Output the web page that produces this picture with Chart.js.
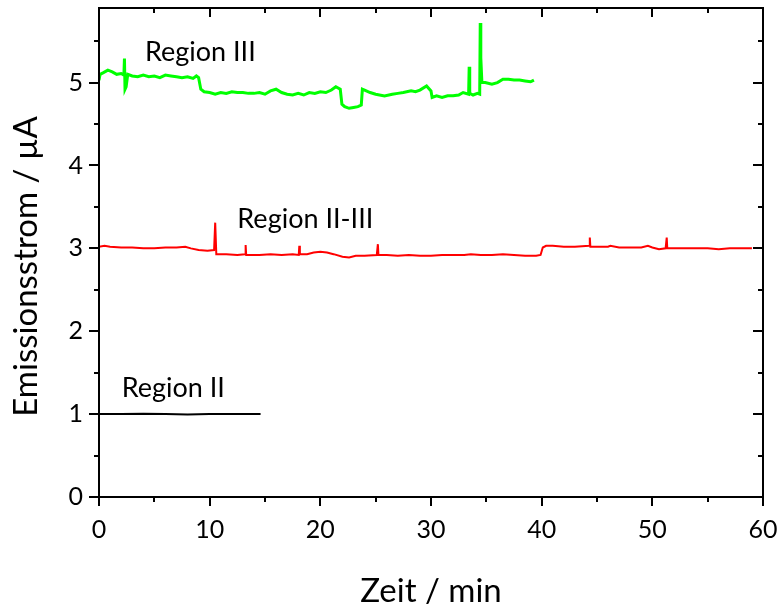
<!DOCTYPE html>
<html>
<head>
<meta charset="utf-8">
<script src="https://cdn.jsdelivr.net/npm/chart.js@4.4.1/dist/chart.umd.min.js"></script>
<style>
  html, body { margin: 0; padding: 0; background: #fff; }
  #wrap { width: 779px; height: 610px; }
</style>
</head>
<body>
<div id="wrap"><canvas id="chart1"></canvas></div>
<script>
// Region III (green)
var timeIII = [0.0, 0.1, 0.4, 0.8, 1.2, 1.6, 2.0, 2.25, 2.3, 2.35, 2.45, 2.6, 3.0, 3.5, 4.0, 4.5, 5.0, 5.5, 6.0, 6.5,
  7.0, 7.5, 8.0, 8.5, 8.8, 9.0, 9.2, 9.5, 10.0, 10.5, 11.0, 11.5, 12.0, 12.5, 13.0, 13.5, 14.0, 14.5, 15.0, 15.5,
  16.0, 16.5, 17.0, 17.5, 18.0, 18.5, 19.0, 19.5, 20.0, 20.5, 21.0, 21.4, 21.8, 21.95, 22.2, 22.6, 23.0, 23.4, 23.7, 23.8,
  24.0, 24.5, 25.0, 25.8, 26.5, 27.0, 27.5, 28.2, 28.6, 29.0, 29.6, 30.0, 30.1, 30.5, 31.0, 31.5, 32.0, 32.5, 32.9, 33.4,
  33.45, 33.5, 33.8, 34.2, 34.4, 34.45, 34.5, 34.6, 34.9, 35.5, 36.0, 36.5, 37.0, 37.5, 38.0, 38.5, 39.0, 39.3];
var currentIII = [5.03, 5.10, 5.12, 5.15, 5.13, 5.10, 5.11, 5.09, 5.29, 4.92, 4.95, 5.10, 5.08, 5.07, 5.09, 5.07, 5.08, 5.06, 5.09, 5.08,
  5.07, 5.06, 5.07, 5.05, 5.08, 5.06, 4.92, 4.89, 4.88, 4.86, 4.88, 4.87, 4.89, 4.88, 4.88, 4.87, 4.87, 4.88, 4.86, 4.90,
  4.92, 4.88, 4.86, 4.85, 4.87, 4.85, 4.88, 4.87, 4.89, 4.88, 4.91, 4.95, 4.92, 4.74, 4.71, 4.69, 4.70, 4.71, 4.73, 4.92,
  4.91, 4.88, 4.86, 4.84, 4.86, 4.87, 4.88, 4.90, 4.89, 4.91, 4.96, 4.90, 4.82, 4.84, 4.82, 4.84, 4.84, 4.85, 4.88, 4.86,
  5.19, 4.87, 4.85, 4.87, 4.86, 5.72, 5.30, 5.00, 5.00, 4.98, 5.00, 5.04, 5.04, 5.03, 5.03, 5.02, 5.01, 5.03];

// Region II-III (red)
var timeIIIII = [0.0, 0.5, 1.0, 2.0, 3.0, 4.0, 5.0, 6.0, 7.0, 7.8, 8.3, 9.0, 9.8, 10.4, 10.5, 10.6, 11.5, 12.5, 13.2, 13.25,
  13.3, 14.5, 15.5, 16.5, 17.5, 18.05, 18.1, 18.15, 18.8, 19.4, 20.0, 20.6, 21.2, 22.0, 22.6, 23.2, 24.0, 25.1, 25.2, 25.25,
  26.0, 27.0, 28.0, 29.0, 30.0, 31.0, 32.0, 33.0, 33.6, 34.5, 35.5, 36.5, 37.5, 38.5, 39.5, 39.9, 40.1, 40.4, 41.0, 42.0,
  43.0, 44.3, 44.35, 44.4, 45.0, 46.0, 46.2, 47.0, 48.0, 49.0, 49.6, 50.0, 50.6, 51.2, 51.3, 51.35, 52.0, 53.0, 54.0, 55.0,
  56.0, 57.0, 58.0, 59.0];
var currentIIIII = [3.02, 3.03, 3.02, 3.01, 3.01, 3.00, 3.00, 3.01, 3.01, 3.02, 3.00, 2.98, 2.97, 2.98, 3.31, 2.93, 2.93, 2.92, 2.93, 3.04,
  2.92, 2.92, 2.93, 2.92, 2.93, 2.92, 3.03, 2.93, 2.93, 2.95, 2.96, 2.95, 2.93, 2.90, 2.89, 2.91, 2.91, 2.92, 3.05, 2.92,
  2.92, 2.91, 2.92, 2.91, 2.91, 2.92, 2.92, 2.92, 2.93, 2.92, 2.92, 2.93, 2.92, 2.91, 2.91, 2.92, 3.01, 3.03, 3.03, 3.02,
  3.02, 3.03, 3.13, 3.02, 3.02, 3.02, 3.03, 3.01, 3.01, 3.01, 3.03, 3.01, 2.99, 3.00, 3.13, 3.00, 3.00, 3.00, 3.00, 3.00,
  2.99, 3.00, 3.00, 3.00];

// Region II (black)
var timeII = [0.0, 2.0, 4.0, 6.0, 8.0, 10.0, 12.0, 14.6];
var currentII = [1.00, 1.00, 1.005, 1.00, 0.995, 1.00, 1.00, 1.00];

var xTicks = [0, 10, 20, 30, 40, 50, 60];
var yTicks = [0, 1, 2, 3, 4, 5];
var regionNames = ['Region III', 'Region II-III', 'Region II'];

function toPoints(xs, ys) {
  return xs.map(function (x, i) { return { x: x, y: ys[i] }; });
}

var font = 'Lato, "Open Sans", sans-serif';

// frame, tick marks, region labels and axis titles
var frame = {
  id: 'frame',
  afterDraw: function (chart) {
    var ctx = chart.ctx;
    var a = chart.chartArea;
    var xs = chart.scales.x;
    var ys = chart.scales.y;
    var t, v, p, len;

    ctx.save();
    ctx.strokeStyle = '#000';
    ctx.lineWidth = 2;
    ctx.strokeRect(a.left, a.top, a.right - a.left, a.bottom - a.top);

    ctx.beginPath();
    for (t = 0; t <= 60; t += 5) {
      p = Math.round(xs.getPixelForValue(t));
      len = t % 10 === 0 ? 9 : 5;
      ctx.moveTo(p, a.bottom); ctx.lineTo(p, a.bottom + len);
      ctx.moveTo(p, a.top); ctx.lineTo(p, a.top + len);
    }
    for (v = 0; v <= 5.5; v += 0.5) {
      p = Math.round(ys.getPixelForValue(v));
      len = v % 1 === 0 ? 10 : 5;
      ctx.moveTo(a.left, p); ctx.lineTo(a.left - len, p);
      ctx.moveTo(a.right, p); ctx.lineTo(a.right - len, p);
    }
    ctx.stroke();

    ctx.fillStyle = '#000';
    ctx.font = '27px ' + font;
    ctx.textAlign = 'left';
    ctx.textBaseline = 'alphabetic';
    var anchors = [[4.15, 5.26], [12.5, 3.25], [2.05, 1.21]];
    regionNames.forEach(function (name, i) {
      ctx.fillText(name, xs.getPixelForValue(anchors[i][0]), ys.getPixelForValue(anchors[i][1]));
    });

    ctx.font = '33px ' + font;
    ctx.textAlign = 'center';
    ctx.fillText('Zeit / min', (a.left + a.right) / 2, 602);
    ctx.translate(37, (a.top + a.bottom) / 2 + 14);
    ctx.rotate(-Math.PI / 2);
    ctx.fillText('Emissionsstrom / µA', 0, 0);
    ctx.restore();
  }
};

function noOverhang(scale) {
  scale.paddingTop = 0;
  scale.paddingBottom = 0;
  scale.paddingLeft = 0;
  scale.paddingRight = 0;
}

var ctx = document.getElementById('chart1');
var chart = new Chart(ctx, {
  type: 'line',
  data: {
    datasets: [{
      label: regionNames[0],
      data: toPoints(timeIII, currentIII),
      borderColor: '#00ff00',
      borderWidth: 3
    }, {
      label: regionNames[1],
      data: toPoints(timeIIIII, currentIIIII),
      borderColor: '#ff0000',
      borderWidth: 2
    }, {
      label: regionNames[2],
      data: toPoints(timeII, currentII),
      borderColor: '#000000',
      borderWidth: 2
    }]
  },
  options: {
    responsive: true,
    maintainAspectRatio: false,
    animation: false,
    elements: { point: { radius: 0 }, line: { tension: 0 } },
    layout: { padding: { top: 8, right: 16, left: 0, bottom: 0 } },
    plugins: { legend: { display: false }, tooltip: { enabled: false } },
    scales: {
      x: {
        type: 'linear',
        min: 0,
        max: 60,
        grid: { display: false, drawTicks: false },
        border: { display: false },
        afterBuildTicks: function (scale) {
          scale.ticks = xTicks.map(function (v) { return { value: v }; });
        },
        afterFit: function (scale) { scale.height = 113; noOverhang(scale); },
        ticks: {
          padding: 18,
          maxRotation: 0,
          color: '#000',
          font: { family: font, size: 25 }
        }
      },
      y: {
        min: 0,
        max: 5.9,
        grid: { display: false, drawTicks: false },
        border: { display: false },
        afterBuildTicks: function (scale) {
          scale.ticks = yTicks.map(function (v) { return { value: v }; });
        },
        afterFit: function (scale) { scale.width = 99; noOverhang(scale); },
        ticks: {
          padding: 16,
          color: '#000',
          font: { family: font, size: 25 }
        }
      }
    }
  },
  plugins: [frame]
});
</script>
</body>
</html>
